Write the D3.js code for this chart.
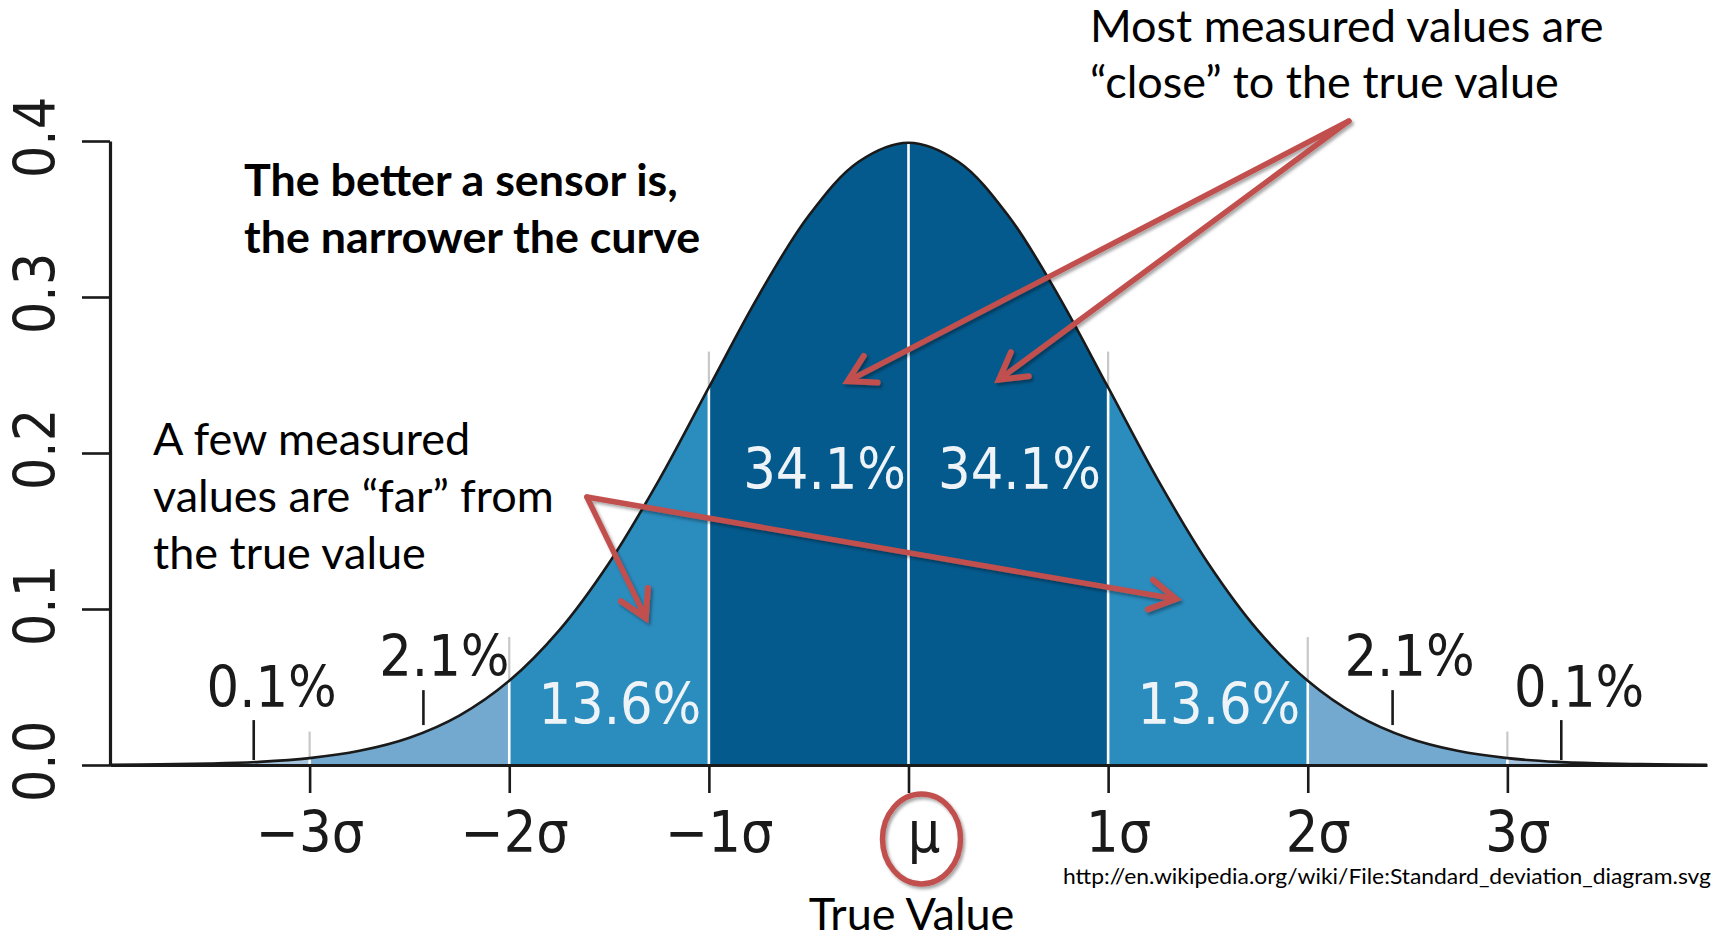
<!DOCTYPE html>
<html><head><meta charset="utf-8">
<script src="https://cdn.jsdelivr.net/npm/d3@7"></script>
<style>html,body{margin:0;padding:0;background:#fff;overflow:hidden}</style>
</head><body><svg id="chart" width="1731" height="938"></svg>
<script>
// ---- data ----
const densityX = [-4,-3.75,-3.5,-3.25,-3,-2.75,-2.5,-2.25,-2,-1.75,-1.5,-1.25,-1,-0.75,-0.5,-0.25,0,0.25,0.5,0.75,1,1.25,1.5,1.75,2,2.25,2.5,2.75,3,3.25,3.5,3.75,4];
const densityY = [0.0001,0.0004,0.0009,0.0020,0.0044,0.0091,0.0175,0.0317,0.0540,0.0863,0.1295,0.1826,0.2420,0.3011,0.3521,0.3867,0.3989,0.3867,0.3521,0.3011,0.2420,0.1826,0.1295,0.0863,0.0540,0.0317,0.0175,0.0091,0.0044,0.0020,0.0009,0.0004,0.0001];
const bandEdges = [-4,-3,-2,-1,0,1,2,3,4];
const bandShares = ["0.1%","2.1%","13.6%","34.1%","34.1%","13.6%","2.1%","0.1%"];
const sigmaTicks = [-3,-2,-1,0,1,2,3];
const sigmaLabels = ["\u22123\u03c3","\u22122\u03c3","\u22121\u03c3","\u03bc","1\u03c3","2\u03c3","3\u03c3"];
const yTicks = [0,0.1,0.2,0.3,0.4];
const yTickLabels = ["0.0","0.1","0.2","0.3","0.4"];

// ---- layout / style ----
const W = 1731, H = 938;
const bandColors = ["#a6c3de","#74a9cf","#2b8cbe","#045a8d","#045a8d","#2b8cbe","#74a9cf","#a6c3de"];
const bandLabelAt = [[-3.19,0.0372],[-2.325,0.057],[-1.446,0.0263],[-0.42,0.177],[0.556,0.177],[1.555,0.0263],[2.51,0.057],[3.36,0.0372]];
const bandLabelWhite = [false,false,true,true,true,true,false,false];
const pointerTicks = [[-3.28,0.0032,0.0288],[-2.43,0.0256,0.048],[2.425,0.0256,0.048],[3.27,0.0032,0.0288]];
const xLabelShift = [0,5,10,15,10,10,10];
const red = "#c0504d";
const tickFont = "'DejaVu Sans Condensed','DejaVu Sans',sans-serif";
const noteFont = "Lato,'Open Sans',sans-serif";

const svg = d3.select("#chart");
svg.append("rect").attr("width",W).attr("height",H).attr("fill","#fff");

const x = d3.scaleLinear().domain([-4,4]).range([110,1707]);
const y = d3.scaleLinear().domain([0,0.4]).range([765,141]);

const pts = densityX.map((d,i)=>[d,densityY[i]]);
const fAt = v => densityY[densityX.indexOf(v)];

const defs = svg.append("defs");
const areaGen = d3.area().x(d=>x(d[0])).y0(y(0)).y1(d=>y(d[1])).curve(d3.curveCatmullRom.alpha(0.5));
const lineGen = d3.line().x(d=>x(d[0])).y(d=>y(d[1])).curve(d3.curveCatmullRom.alpha(0.5));
defs.append("clipPath").attr("id","under").append("path").attr("d",areaGen(pts));

const sh = defs.append("filter").attr("id","shadow").attr("x","-20%").attr("y","-20%").attr("width","140%").attr("height","140%");
sh.append("feDropShadow").attr("dx",2).attr("dy",2.5).attr("stdDeviation",1.6).attr("flood-color","#000").attr("flood-opacity",0.35);

defs.append("marker").attr("id","ah").attr("viewBox","0 0 20 20")
  .attr("refX",16).attr("refY",10).attr("markerWidth",40).attr("markerHeight",40)
  .attr("markerUnits","userSpaceOnUse").attr("orient","auto")
  .append("path").attr("d","M3,2.5 L16,10 L3,17.5").attr("fill","none")
  .attr("stroke",red).attr("stroke-width",3).attr("stroke-linecap","round").attr("stroke-linejoin","miter");

// bands
const gBands = svg.append("g").attr("clip-path","url(#under)");
gBands.selectAll("rect").data(bandColors).join("rect")
  .attr("x",(d,i)=>x(bandEdges[i])).attr("width",(d,i)=>x(bandEdges[i+1])-x(bandEdges[i]))
  .attr("y",y(0.42)).attr("height",y(0)-y(0.42)).attr("fill",d=>d);

// gray guide lines above curve
svg.append("g").selectAll("line").data([-3,-2,-1,1,2,3]).join("line")
  .attr("x1",d=>x(d)).attr("x2",d=>x(d))
  .attr("y1",d=>y(fAt(d))).attr("y2",d=>y(fAt(d)+(Math.abs(d)===3?0.017:(Math.abs(d)===2?0.028:0.023))))
  .attr("stroke","#c8c8c8").attr("stroke-width",2.2);
// white divider lines
svg.append("g").selectAll("line").data(sigmaTicks).join("line")
  .attr("x1",d=>x(d)).attr("x2",d=>x(d)).attr("y1",y(0)).attr("y2",d=>y(fAt(d)))
  .attr("stroke","#fff").attr("stroke-width",2.6);

// curve
svg.append("path").attr("d",lineGen(pts)).attr("fill","none").attr("stroke","#1a1a1a").attr("stroke-width",2.6);

// axes
const xAxis = d3.axisBottom(x).tickValues(sigmaTicks).tickSize(28).tickSizeOuter(0).tickFormat((d,i)=>sigmaLabels[i]);
const gx = svg.append("g").attr("transform",`translate(0,${y(0)})`).call(xAxis);
gx.select(".domain").attr("stroke","#1a1a1a").attr("stroke-width",3.2);
gx.selectAll(".tick line").attr("stroke","#1a1a1a").attr("stroke-width",2.6);
gx.selectAll(".tick text").attr("font-family",tickFont).style("font-stretch","condensed")
  .attr("font-size",57).attr("fill","#1a1a1a").attr("y",0).attr("dy",0)
  .attr("transform",(d,i)=>`translate(${xLabelShift[i]},87)`);

const yAxis = d3.axisLeft(y).tickValues(yTicks).tickSize(28).tickSizeOuter(0).tickFormat((d,i)=>yTickLabels[i]);
const gy = svg.append("g").attr("transform",`translate(${x(-4)},0)`).call(yAxis);
gy.select(".domain").attr("stroke","#1a1a1a").attr("stroke-width",3.2);
gy.selectAll(".tick line").attr("stroke","#1a1a1a").attr("stroke-width",2.6);
gy.selectAll(".tick text").attr("font-family",tickFont).style("font-stretch","condensed")
  .attr("font-size",57).attr("fill","#1a1a1a").attr("x",0).attr("dy",0)
  .attr("text-anchor","middle").attr("transform",`translate(${55-x(-4)},-4) rotate(-90)`);

// band share labels
svg.append("g").selectAll("text").data(bandShares).join("text")
  .attr("x",(d,i)=>x(bandLabelAt[i][0])).attr("y",(d,i)=>y(bandLabelAt[i][1]))
  .attr("text-anchor","middle").attr("font-family",tickFont).style("font-stretch","condensed")
  .attr("font-size",57).attr("fill",(d,i)=>bandLabelWhite[i]?"#eef3f8":"#1a1a1a").text(d=>d);

// small pointer ticks
svg.append("g").selectAll("line").data(pointerTicks).join("line")
  .attr("x1",d=>x(d[0])).attr("x2",d=>x(d[0])).attr("y1",d=>y(d[1])).attr("y2",d=>y(d[2]))
  .attr("stroke","#1a1a1a").attr("stroke-width",2.6);

// annotations
function lines(tx, ty, arr, size, weight, lh){
  const t = svg.append("text").attr("font-family",noteFont).attr("font-size",size).attr("font-weight",weight).attr("fill","#000");
  arr.forEach((s,i)=>t.append("tspan").attr("x",tx).attr("y",ty+i*lh).text(s));
}
lines(244,196,["The better a sensor is,","the narrower the curve"],44.8,700,57);
lines(1090,42,["Most measured values are","\u201cclose\u201d to the true value"],45,400,56);
lines(153,455,["A few measured","values are \u201cfar\u201d from","the true value"],45,400,57);
svg.append("text").attr("x",x(0)+3).attr("y",930).attr("text-anchor","middle").attr("font-family",noteFont)
  .attr("font-size",45).attr("fill","#000").text("True Value");
svg.append("text").attr("x",1063).attr("y",884).attr("font-family",noteFont).attr("font-size",21)
  .attr("textLength",648).attr("lengthAdjust","spacingAndGlyphs").attr("fill","#000")
  .text("http://en.wikipedia.org/wiki/File:Standard_deviation_diagram.svg");

// circle round mu
svg.append("ellipse").attr("cx",x(0)+13).attr("cy",839).attr("rx",39).attr("ry",45)
  .attr("fill","none").attr("stroke",red).attr("stroke-width",5.5).attr("filter","url(#shadow)");

// arrows (data coordinates: sigma, density)
const arrows = [
  [[2.206,0.4128],[-0.305,0.246]],
  [[2.206,0.4128],[0.453,0.247]],
  [[-1.611,0.1718],[-1.316,0.0942]],
  [[-1.611,0.1718],[1.34,0.1064]]
];
svg.append("g").attr("filter","url(#shadow)").selectAll("line").data(arrows).join("line")
  .attr("x1",d=>x(d[0][0])).attr("y1",d=>y(d[0][1])).attr("x2",d=>x(d[1][0])).attr("y2",d=>y(d[1][1]))
  .attr("stroke",red).attr("stroke-width",5.5).attr("stroke-linecap","round").attr("marker-end","url(#ah)");
</script></body></html>
